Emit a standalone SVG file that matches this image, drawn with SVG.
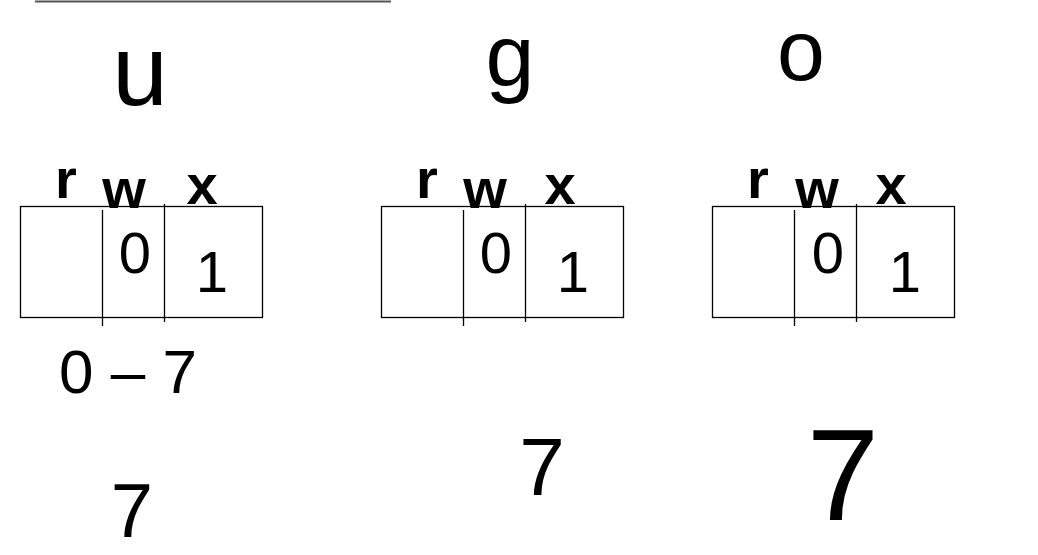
<svg xmlns="http://www.w3.org/2000/svg" width="1038" height="555" viewBox="0 0 1038 555">
<style>
.t{font-family:"Liberation Sans",Arial,sans-serif;fill:#000;text-anchor:middle}
.box{fill:none;stroke:#000;stroke-width:1.3}
.div{stroke:#000;stroke-width:1.3}
.big{font-size:100px}
.lbl{font-size:56px;font-weight:bold}
.val{font-size:58px}
</style>
<rect width="1038" height="555" fill="#fff"/>
<line x1="35" y1="1.5" x2="391" y2="1.5" stroke="#555" stroke-width="2"/>
<g id="heading-u"><text class="t big" x="140" y="105">u</text></g>
<g id="heading-g"><text class="t" x="510" y="86" style="font-size:88px">g</text></g>
<g id="heading-o"><text class="t" x="801" y="80" style="font-size:86px">o</text></g>
<g id="perm-user">
<rect class="box" x="20.5" y="206.5" width="242" height="111"/>
<line class="div" x1="102.5" y1="210" x2="102.5" y2="326"/>
<line class="div" x1="164.5" y1="204" x2="164.5" y2="322"/>
<text class="t lbl" x="66" y="198">r</text>
<text class="t lbl" x="124" y="208">w</text>
<text class="t lbl" x="202" y="204">x</text>
<text class="t val" x="135" y="273">0</text>
<text class="t val" x="212" y="292">1</text>
</g>
<g id="perm-group">
<rect class="box" x="381.5" y="206.5" width="242" height="111"/>
<line class="div" x1="463.5" y1="210" x2="463.5" y2="326"/>
<line class="div" x1="525.5" y1="204" x2="525.5" y2="322"/>
<text class="t lbl" x="427" y="198">r</text>
<text class="t lbl" x="485" y="208">w</text>
<text class="t lbl" x="560" y="204">x</text>
<text class="t val" x="496" y="273">0</text>
<text class="t val" x="573" y="292">1</text>
</g>
<g id="perm-other">
<rect class="box" x="712.5" y="206.5" width="242" height="111"/>
<line class="div" x1="794.5" y1="210" x2="794.5" y2="326"/>
<line class="div" x1="856.5" y1="204" x2="856.5" y2="322"/>
<text class="t lbl" x="758" y="198">r</text>
<text class="t lbl" x="817" y="208">w</text>
<text class="t lbl" x="891" y="204">x</text>
<text class="t val" x="828" y="273">0</text>
<text class="t val" x="905" y="292">1</text>
</g>
<g id="range"><text class="t val" x="128" y="393" style="font-size:62px">0 – 7</text></g>
<g id="value-user"><text class="t" x="132" y="537" style="font-size:76px">7</text></g>
<g id="value-group"><text class="t" x="542" y="495" style="font-size:82px">7</text></g>
<g id="value-other"><text class="t" x="843" y="520" style="font-size:130px">7</text></g>
</svg>
